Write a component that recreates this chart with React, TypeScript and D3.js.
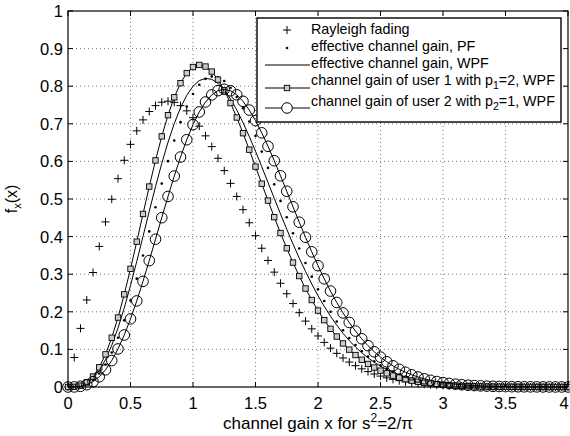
import React from 'react';
import * as d3 from 'd3';

// sampling step of all curves along x (channel gain)
const xStep = 0.05;

// values, x = 0, 0.05, ..., 4
const rayleigh = [
  0, 0.0784, 0.1559, 0.2315, 0.3044, 0.3739, 0.4391, 0.4993, 0.5541, 0.6029,
  0.6454, 0.6813, 0.7104, 0.7327, 0.7483, 0.7574, 0.7602, 0.7570, 0.7483, 0.7345,
  0.7162, 0.6938, 0.6680, 0.6393, 0.6083, 0.5755, 0.5415, 0.5068, 0.4717, 0.4368,
  0.4025, 0.3690, 0.3365, 0.3055, 0.2759, 0.2480, 0.2219, 0.1976, 0.1752, 0.1546,
  0.1358, 0.1187, 0.1033, 0.0895, 0.0772, 0.0663, 0.0567, 0.0483, 0.0409, 0.0345,
  0.0290, 0.0243, 0.0202, 0.0168, 0.0138, 0.0114, 0.0093, 0.0076, 0.0062, 0.0050,
  0.0040, 0.0032, 0.0026, 0.0020, 0.0016, 0.0013, 0.0010, 0.0008, 0.0006, 0.0005,
  0.0004, 0.0003, 0.0002, 0.0002, 0.0001, 0.0001, 0.0001, 0.0001, 0.0000, 0.0000, 0.0000,
];

const pfGain = [
  0, 0.0003, 0.0024, 0.0081, 0.0188, 0.0358, 0.0599, 0.0916, 0.1309, 0.1773,
  0.2301, 0.2881, 0.3499, 0.4138, 0.4781, 0.5409, 0.6007, 0.6556, 0.7044, 0.7460,
  0.7793, 0.8039, 0.8195, 0.8261, 0.8240, 0.8137, 0.7958, 0.7713, 0.7411, 0.7061,
  0.6675, 0.6261, 0.5829, 0.5389, 0.4949, 0.4513, 0.4090, 0.3684, 0.3298, 0.2935,
  0.2598, 0.2286, 0.2002, 0.1743, 0.1510, 0.1301, 0.1116, 0.0952, 0.0809, 0.0684,
  0.0576, 0.0482, 0.0402, 0.0334, 0.0276, 0.0227, 0.0186, 0.0152, 0.0123, 0.0100,
  0.0080, 0.0064, 0.0051, 0.0041, 0.0032, 0.0025, 0.0020, 0.0016, 0.0012, 0.0009,
  0.0007, 0.0006, 0.0004, 0.0003, 0.0002, 0.0002, 0.0001, 0.0001, 0.0001, 0.0001, 0.0000,
];

const wpfGain = [
  0, 0.0004, 0.0030, 0.0101, 0.0233, 0.0440, 0.0731, 0.1109, 0.1569, 0.2104,
  0.2700, 0.3340, 0.4005, 0.4674, 0.5327, 0.5945, 0.6509, 0.7007, 0.7425, 0.7758,
  0.7999, 0.8149, 0.8208, 0.8182, 0.8077, 0.7900, 0.7661, 0.7369, 0.7033, 0.6663,
  0.6269, 0.5858, 0.5439, 0.5018, 0.4602, 0.4196, 0.3803, 0.3428, 0.3074, 0.2740,
  0.2430, 0.2144, 0.1882, 0.1644, 0.1428, 0.1235, 0.1062, 0.0910, 0.0775, 0.0657,
  0.0555, 0.0466, 0.0390, 0.0324, 0.0269, 0.0222, 0.0182, 0.0149, 0.0121, 0.0098,
  0.0079, 0.0063, 0.0051, 0.0040, 0.0032, 0.0025, 0.0020, 0.0015, 0.0012, 0.0009,
  0.0007, 0.0006, 0.0004, 0.0003, 0.0002, 0.0002, 0.0001, 0.0001, 0.0001, 0.0001, 0.0000,
];

const user1Gain = [
  0, 0.0005, 0.0036, 0.0121, 0.0278, 0.0524, 0.0868, 0.1311, 0.1847, 0.2464,
  0.3144, 0.3865, 0.4602, 0.5331, 0.6026, 0.6665, 0.7230, 0.7705, 0.8080, 0.8348,
  0.8510, 0.8566, 0.8523, 0.8389, 0.8175, 0.7891, 0.7552, 0.7168, 0.6750, 0.6312,
  0.5861, 0.5407, 0.4958, 0.4518, 0.4095, 0.3690, 0.3309, 0.2951, 0.2619, 0.2313,
  0.2033, 0.1778, 0.1548, 0.1342, 0.1158, 0.0994, 0.0850, 0.0724, 0.0613, 0.0518,
  0.0435, 0.0364, 0.0303, 0.0251, 0.0208, 0.0171, 0.0140, 0.0114, 0.0092, 0.0075,
  0.0060, 0.0048, 0.0038, 0.0031, 0.0024, 0.0019, 0.0015, 0.0012, 0.0009, 0.0007,
  0.0005, 0.0004, 0.0003, 0.0002, 0.0002, 0.0001, 0.0001, 0.0001, 0.0001, 0.0000, 0.0000,
];

const user2Gain = [
  0, 0.0002, 0.0018, 0.0061, 0.0142, 0.0272, 0.0457, 0.0704, 0.1012, 0.1383,
  0.1811, 0.2289, 0.2809, 0.3361, 0.3930, 0.4503, 0.5068, 0.5610, 0.6116, 0.6576,
  0.6978, 0.7315, 0.7580, 0.7769, 0.7882, 0.7918, 0.7880, 0.7771, 0.7598, 0.7366,
  0.7084, 0.6760, 0.6402, 0.6018, 0.5617, 0.5206, 0.4793, 0.4383, 0.3983, 0.3595,
  0.3226, 0.2877, 0.2551, 0.2248, 0.1970, 0.1717, 0.1487, 0.1282, 0.1099, 0.0937,
  0.0795, 0.0671, 0.0563, 0.0471, 0.0391, 0.0324, 0.0266, 0.0218, 0.0178, 0.0145,
  0.0117, 0.0094, 0.0075, 0.0060, 0.0048, 0.0038, 0.0030, 0.0023, 0.0018, 0.0014,
  0.0011, 0.0008, 0.0006, 0.0005, 0.0004, 0.0003, 0.0002, 0.0002, 0.0001, 0.0001, 0.0001,
];

const xTicks = [0, 0.5, 1, 1.5, 2, 2.5, 3, 3.5, 4];
const xTickLabels = ['0', '0.5', '1', '1.5', '2', '2.5', '3', '3.5', '4'];
const yTicks = [0, 0.1, 0.2, 0.3, 0.4, 0.5, 0.6, 0.7, 0.8, 0.9, 1];
const yTickLabels = ['0', '0.1', '0.2', '0.3', '0.4', '0.5', '0.6', '0.7', '0.8', '0.9', '1'];

const legendLabels = [
  'Rayleigh fading',
  'effective channel gain, PF',
  'effective channel gain, WPF',
];

const FONT = '"Liberation Sans", Arial, Helvetica, sans-serif';

export default function App() {
  const W = 570;
  const H = 436;
  const left = 68, right = 568, top = 11, bottom = 387;
  const x = d3.scaleLinear().domain([0, 4]).range([left, right]);
  const y = d3.scaleLinear().domain([0, 1]).range([bottom, top]);
  const xAt = (i: number) => x(i * xStep);
  const line = d3
    .line<number>()
    .x((_, i) => xAt(i))
    .y((d) => y(d));

  const tickLen = 5;
  const plus = (cx: number, cy: number, s: number, key: string | number) => (
    <path key={key} d={`M${cx - s},${cy}H${cx + s}M${cx},${cy - s}V${cy + s}`} stroke="#000" strokeWidth={1} fill="none" />
  );

  // legend geometry
  const lg = { x0: 257, x1: 561, y0: 18, y1: 122 };
  const sampleX0 = 265, sampleX1 = 310, sampleMid = 287, textX = 311;
  const markY = [30, 48, 65, 88, 108];
  const textY = [34, 51, 68, 85, 106];

  return (
    <svg width={W} height={H} style={{ position: 'absolute', left: 0, top: 0, background: '#fff' }} fontFamily={FONT}>
      <rect x={0} y={0} width={W} height={H} fill="#fff" />
      {/* grid */}
      <g stroke="#666" strokeWidth={0.9} strokeDasharray="1,3">
        {xTicks.slice(1, -1).map((t) => (
          <line key={'gx' + t} x1={x(t)} x2={x(t)} y1={bottom} y2={top} />
        ))}
        {yTicks.slice(1, -1).map((t) => (
          <line key={'gy' + t} x1={left} x2={right} y1={y(t)} y2={y(t)} />
        ))}
      </g>

      {/* Rayleigh '+' */}
      <g>{rayleigh.map((v, i) => plus(xAt(i), y(v), 4, 'r' + i))}</g>

      {/* PF dots */}
      <g fill="#000">
        {pfGain.map((v, i) => (
          <circle key={'p' + i} cx={xAt(i)} cy={y(v)} r={1.3} />
        ))}
      </g>

      {/* WPF line */}
      <path d={line(wpfGain) || ''} fill="none" stroke="#000" strokeWidth={1} />

      {/* user 1 squares */}
      <path d={line(user1Gain) || ''} fill="none" stroke="#000" strokeWidth={1} />
      <g fill="#ccc" stroke="#000" strokeWidth={0.9}>
        {user1Gain.map((v, i) => (
          <rect key={'u1' + i} x={xAt(i) - 2.7} y={y(v) - 2.7} width={5.4} height={5.4} />
        ))}
      </g>

      {/* user 2 circles */}
      <path d={line(user2Gain) || ''} fill="none" stroke="#000" strokeWidth={1} />
      <g fill="none" stroke="#000" strokeWidth={1}>
        {user2Gain.map((v, i) => (
          <circle key={'u2' + i} cx={xAt(i)} cy={y(v)} r={5.3} />
        ))}
      </g>

      {/* axes box */}
      <rect x={left} y={top} width={right - left} height={bottom - top} fill="none" stroke="#000" strokeWidth={1.2} />
      {/* ticks */}
      <g stroke="#000" strokeWidth={1}>
        {xTicks.map((t) => (
          <g key={'tx' + t}>
            <line x1={x(t)} x2={x(t)} y1={bottom} y2={bottom - tickLen} />
            <line x1={x(t)} x2={x(t)} y1={top} y2={top + tickLen} />
          </g>
        ))}
        {yTicks.map((t) => (
          <g key={'ty' + t}>
            <line x1={left} x2={left + tickLen} y1={y(t)} y2={y(t)} />
            <line x1={right} x2={right - tickLen} y1={y(t)} y2={y(t)} />
          </g>
        ))}
      </g>
      {/* tick labels */}
      <g fontSize={16.5} fill="#000">
        {xTicks.map((t, i) => (
          <text key={'lx' + t} x={Math.min(x(t), 564)} y={bottom + 22} textAnchor="middle">
            {xTickLabels[i]}
          </text>
        ))}
        {yTicks.map((t, i) => (
          <text key={'ly' + t} x={left - 5} y={y(t)} dy="0.36em" textAnchor="end">
            {yTickLabels[i]}
          </text>
        ))}
      </g>

      {/* axis labels */}
      <text x={(left + right) / 2} y={429} textAnchor="middle" fontSize={17} fill="#000">
        channel gain x for s<tspan dy={-7} fontSize={12}>2</tspan>
        <tspan dy={7}>=2/π</tspan>
      </text>
      <text transform={`translate(17,${(top + bottom) / 2}) rotate(-90)`} textAnchor="middle" fontSize={16} fill="#000">
        f<tspan dy={4} fontSize={11}>x</tspan>
        <tspan dy={-4}>(x)</tspan>
      </text>

      {/* legend */}
      <rect x={lg.x0} y={lg.y0} width={lg.x1 - lg.x0} height={lg.y1 - lg.y0} fill="#fff" stroke="#000" strokeWidth={1.4} />
      <g fontSize={14.3} fill="#000">
        {plus(sampleMid, markY[0], 4, 'lg0')}
        <text x={textX} y={textY[0]}>{legendLabels[0]}</text>

        <circle cx={sampleMid} cy={markY[1]} r={1.3} fill="#000" />
        <text x={textX} y={textY[1]}>{legendLabels[1]}</text>

        <line x1={sampleX0} x2={sampleX1} y1={markY[2]} y2={markY[2]} stroke="#000" strokeWidth={1} />
        <text x={textX} y={textY[2]}>{legendLabels[2]}</text>

        <line x1={sampleX0} x2={sampleX1} y1={markY[3]} y2={markY[3]} stroke="#000" strokeWidth={1} />
        <rect x={sampleMid - 2.7} y={markY[3] - 2.7} width={5.4} height={5.4} fill="#ccc" stroke="#000" strokeWidth={0.9} />
        <text x={textX} y={textY[3]}>
          channel gain of user 1 with p<tspan dy={4} fontSize={10.5}>1</tspan>
          <tspan dy={-4}>=2, WPF</tspan>
        </text>

        <line x1={sampleX0} x2={sampleX1} y1={markY[4]} y2={markY[4]} stroke="#000" strokeWidth={1} />
        <circle cx={sampleMid} cy={markY[4]} r={5.3} fill="#fff" stroke="#000" strokeWidth={1} />
        <text x={textX} y={textY[4]}>
          channel gain of user 2 with p<tspan dy={4} fontSize={10.5}>2</tspan>
          <tspan dy={-4}>=1, WPF</tspan>
        </text>
      </g>
    </svg>
  );
}
